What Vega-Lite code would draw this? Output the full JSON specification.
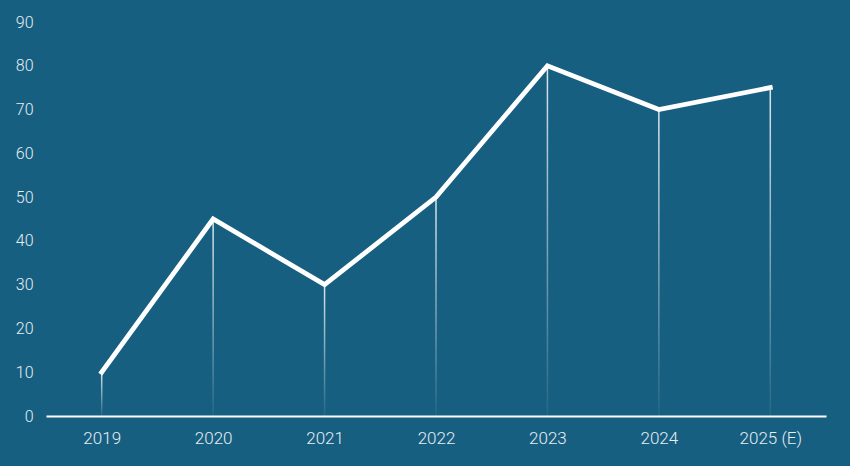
{
  "$schema": "https://vega.github.io/schema/vega-lite/v6.json",
  "width": 780,
  "height": 394,
  "autosize": {"type": "none"},
  "padding": {"left": 46, "top": 22, "right": 24, "bottom": 50},
  "background": "#175f80",
  "config": {
    "view": {"stroke": null},
    "font": "Roboto"
  },
  "data": {
    "values": [
      {"year": "2019", "value": 10},
      {"year": "2020", "value": 45},
      {"year": "2021", "value": 30},
      {"year": "2022", "value": 50},
      {"year": "2023", "value": 80},
      {"year": "2024", "value": 70},
      {"year": "2025 (E)", "value": 75}
    ]
  },
  "encoding": {
    "x": {
      "field": "year",
      "type": "nominal",
      "sort": null,
      "scale": {"type": "point", "padding": 0.5},
      "axis": {
        "title": null,
        "labelAngle": 0,
        "domainColor": "#ffffff",
        "domainWidth": 2,
        "ticks": false,
        "grid": false,
        "labelColor": "#e6eef3",
        "labelFontSize": 17,
        "labelFontWeight": 300,
        "labelPadding": 14
      }
    },
    "y": {
      "field": "value",
      "type": "quantitative",
      "scale": {"domain": [0, 90], "nice": false},
      "axis": {
        "title": null,
        "values": [0, 10, 20, 30, 40, 50, 60, 70, 80, 90],
        "domain": false,
        "ticks": false,
        "grid": false,
        "labelColor": "#e6eef3",
        "labelFontSize": 16,
        "labelFontWeight": 300,
        "labelPadding": 13
      }
    }
  },
  "layer": [
    {
      "mark": {
        "type": "bar",
        "width": 1.5,
        "color": {
          "gradient": "linear",
          "x1": 0, "y1": 0, "x2": 0, "y2": 1,
          "stops": [
            {"offset": 0, "color": "rgba(255,255,255,0.85)"},
            {"offset": 1, "color": "rgba(255,255,255,0.05)"}
          ]
        }
      },
      "encoding": {
        "y2": {"datum": 0}
      }
    },
    {
      "mark": {
        "type": "line",
        "color": "#ffffff",
        "strokeWidth": 4.8,
        "strokeCap": "square",
        "strokeJoin": "miter"
      }
    }
  ]
}
